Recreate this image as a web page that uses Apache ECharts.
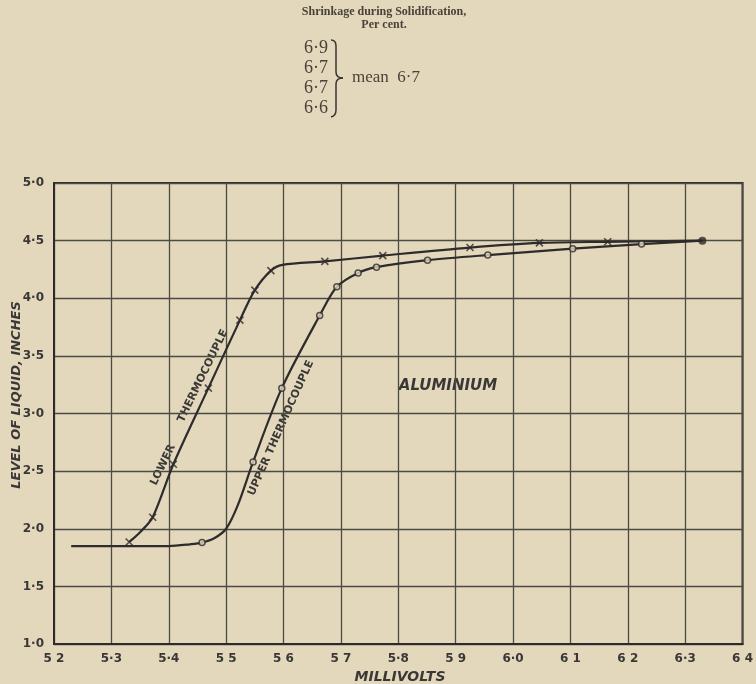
<!DOCTYPE html>
<html>
<head>
<meta charset="utf-8">
<script src="https://cdn.jsdelivr.net/npm/echarts@6/dist/echarts.min.js"></script>
<style>
html,body{margin:0;padding:0;background:#e3d7bc;}
#chart{width:756px;height:684px;}
</style>
</head>
<body>
<div id="chart"></div>
<script>
// ---- data ----
const xTickLabels = ['5 2','5·3','5·4','5 5','5 6','5 7','5·8','5 9','6·0','6 1','6 2','6·3','6 4'];
const yTickLabels = ['1·0','1·5','2·0','2·5','3·0','3·5','4·0','4·5','5·0'];

// Lower thermocouple: curve path and crosses
const lowerCurveX = [5.331,5.350,5.372,5.408,5.469,5.524,5.550,5.578,5.598,5.672,5.773,5.925,6.046,6.165,6.330];
const lowerCurveY = [1.885,1.97,2.10,2.56,3.22,3.81,4.07,4.24,4.29,4.32,4.37,4.44,4.48,4.49,4.50];
const lowerMarkX  = [5.331,5.372,5.408,5.469,5.524,5.550,5.578,5.672,5.773,5.925,6.046,6.165];
const lowerMarkY  = [1.885,2.10,2.56,3.22,3.81,4.07,4.24,4.32,4.37,4.44,4.48,4.49];

// Upper thermocouple: curve path and circles
const upperCurveX = [5.230,5.400,5.437,5.458,5.480,5.500,5.520,5.547,5.597,5.663,5.693,5.730,5.762,5.851,5.956,6.104,6.224,6.330];
const upperCurveY = [1.85,1.85,1.865,1.88,1.92,2.00,2.20,2.58,3.22,3.85,4.10,4.22,4.27,4.33,4.375,4.43,4.47,4.50];
const upperMarkX  = [5.458,5.547,5.597,5.663,5.693,5.730,5.762,5.851,5.956,6.104,6.224];
const upperMarkY  = [1.88,2.58,3.22,3.85,4.10,4.22,4.27,4.33,4.375,4.43,4.47];

const endPointX = [6.33];
const endPointY = [4.50];

const shrinkValues = ['6·9','6·7','6·7','6·6'];
const shrinkMean = '6·7';

// ---- chart ----
const zip = (xs, ys) => xs.map((x, i) => [x, ys[i]]);
const ink = '#2e2b2c';
const gridInk = '#4a4c43';
const labelFont = 'DejaVu Sans';
const serif = '"Liberation Serif"';
const headInk = '#4a4238';
const txt = '#3a3836';

const chart = echarts.init(document.getElementById('chart'), null, {renderer: 'canvas'});

const crossPath = 'path://M0,0L10,10M10,0L0,10';
const braceStyle = {stroke:'#3a3530', lineWidth:1.5, fill:null};

const graphics = [
  {type:'text', x:384, y:12, style:{text:'Shrinkage during Solidification,', font:'bold 12px ' + serif, fill:headInk, align:'center', verticalAlign:'middle'}},
  {type:'text', x:384, y:25, style:{text:'Per cent.', font:'bold 12px ' + serif, fill:headInk, align:'center', verticalAlign:'middle'}},
  {type:'text', x:386, y:78, style:{text:'mean  ' + shrinkMean, font:'17px ' + serif, fill:headInk, align:'center', verticalAlign:'middle'}},
  {type:'bezierCurve', shape:{x1:331, y1:40, cpx1:336, cpy1:40, x2:336, y2:46}, style:braceStyle},
  {type:'line', shape:{x1:336, y1:46, x2:336, y2:72}, style:braceStyle},
  {type:'bezierCurve', shape:{x1:336, y1:72, cpx1:336, cpy1:78, x2:343, y2:78}, style:braceStyle},
  {type:'bezierCurve', shape:{x1:343, y1:78, cpx1:336, cpy1:78, x2:336, y2:84}, style:braceStyle},
  {type:'line', shape:{x1:336, y1:84, x2:336, y2:110}, style:braceStyle},
  {type:'bezierCurve', shape:{x1:336, y1:110, cpx1:336, cpy1:116, x2:331, y2:117}, style:braceStyle},
  {type:'text', x:448, y:386, style:{text:'ALUMINIUM', font:'italic bold 15px "' + labelFont + '"', fill:txt, align:'center', verticalAlign:'middle'}},
  {type:'text', x:163, y:465, rotation:64*Math.PI/180, style:{text:'LOWER', font:'bold 11px "' + labelFont + '"', fill:txt, align:'center', verticalAlign:'middle'}},
  {type:'text', x:203, y:376, rotation:64*Math.PI/180, style:{text:'THERMOCOUPLE', font:'bold 11px "' + labelFont + '"', fill:txt, align:'center', verticalAlign:'middle'}},
  {type:'text', x:281, y:428, rotation:66*Math.PI/180, style:{text:'UPPER THERMOCOUPLE', font:'bold 11px "' + labelFont + '"', fill:txt, align:'center', verticalAlign:'middle'}},
  {type:'text', x:400, y:677, style:{text:'MILLIVOLTS', font:'italic bold 14px "' + labelFont + '"', fill:txt, align:'center', verticalAlign:'middle'}},
  {type:'text', x:17, y:395, rotation:Math.PI/2, style:{text:'LEVEL OF LIQUID, INCHES', font:'italic bold 13px "' + labelFont + '"', fill:txt, align:'center', verticalAlign:'middle'}}
];
shrinkValues.forEach((v, i) => {
  graphics.push({type:'text', x:316, y:48 + i*20, style:{text:v, font:'18px ' + serif, fill:headInk, align:'center', verticalAlign:'middle'}});
});

chart.setOption({
  backgroundColor: '#e3d7bc',
  animation: false,
  grid: {left:54, right:13, top:183, bottom:40, show:true, borderColor:ink, borderWidth:2, backgroundColor:'transparent'},
  xAxis: {
    type:'value', min:5.2, max:6.4, interval:0.1,
    axisLine:{show:true, lineStyle:{color:ink, width:2}},
    axisTick:{show:false},
    splitLine:{show:true, lineStyle:{color:gridInk, width:1.3}},
    axisLabel:{color:txt, fontFamily:labelFont, fontWeight:'bold', fontSize:12, margin:9,
      formatter: v => xTickLabels[Math.round((v - 5.2) / 0.1)] || ''}
  },
  yAxis: {
    type:'value', min:1, max:5, interval:0.5,
    axisLine:{show:true, lineStyle:{color:ink, width:2}},
    axisTick:{show:false},
    splitLine:{show:true, lineStyle:{color:gridInk, width:1.3}},
    axisLabel:{color:txt, fontFamily:labelFont, fontWeight:'bold', fontSize:12, margin:10,
      formatter: v => yTickLabels[Math.round((v - 1) / 0.5)] || ''}
  },
  series: [
    {type:'line', name:'Upper thermocouple', data:zip(upperCurveX, upperCurveY), smooth:0.3, symbol:'none', lineStyle:{color:ink, width:2.2}, z:3},
    {type:'line', name:'Lower thermocouple', data:zip(lowerCurveX, lowerCurveY), smooth:0.3, symbol:'none', lineStyle:{color:ink, width:2.2}, z:3},
    {type:'scatter', data:zip(lowerMarkX, lowerMarkY), symbol:crossPath, symbolSize:7, itemStyle:{color:'transparent', borderColor:ink, borderWidth:1.6}, z:4},
    {type:'scatter', data:zip(upperMarkX, upperMarkY), symbol:'circle', symbolSize:6, itemStyle:{color:'#e3d7bc', borderColor:ink, borderWidth:1.5}, z:4},
    {type:'scatter', data:zip(endPointX, endPointY), symbol:'circle', symbolSize:8, itemStyle:{color:ink}, z:4}
  ],
  graphic: graphics
});
</script>
</body>
</html>
